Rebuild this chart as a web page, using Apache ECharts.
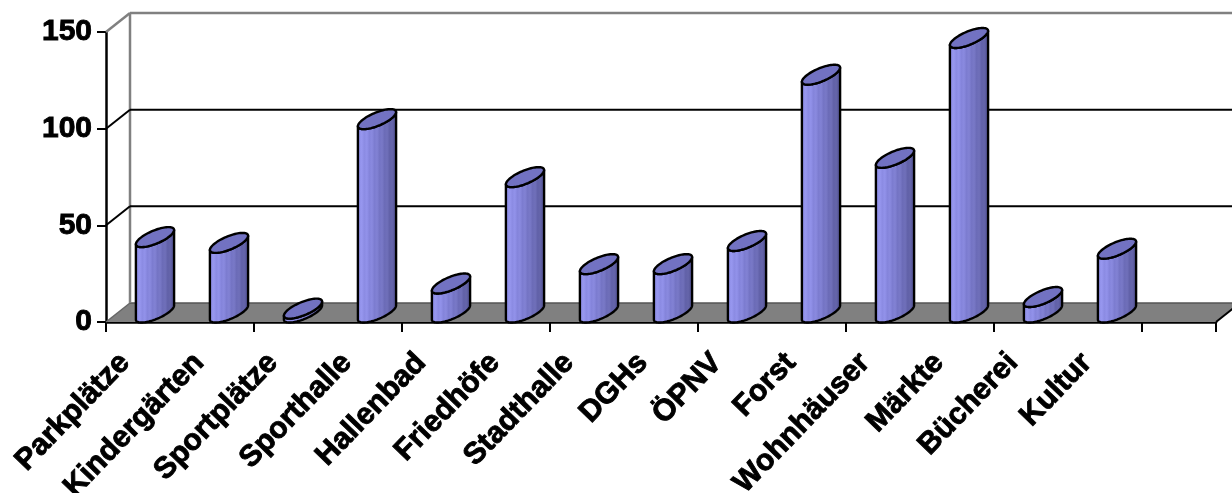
<!DOCTYPE html>
<html>
<head>
<meta charset="utf-8">
<script src="https://cdn.jsdelivr.net/npm/echarts@6/dist/echarts.min.js"></script>
<style>
  html, body { margin: 0; padding: 0; background: #ffffff; }
  #chart { width: 1232px; height: 493px; }
</style>
</head>
<body>
<div id="chart"></div>
<script>
// ---- data ----
const categories = ['Parkplätze', 'Kindergärten', 'Sportplätze', 'Sporthalle', 'Hallenbad', 'Friedhöfe', 'Stadthalle', 'DGHs', 'ÖPNV', 'Forst', 'Wohnhäuser', 'Märkte', 'Bücherei', 'Kultur'];
const values = [39, 36, 2, 100, 15, 70, 25, 25, 37, 123, 80, 142, 8, 33];
const yTicks = [0, 50, 100, 150];
const slots = categories.concat(['']); // 15th empty slot on the 3D floor

// ---- style constants ----
const DX = 24, DY = -19;            // depth vector of the 3D box
const EA = 13.5, EB = 13.5, EC = 10; // cylinder ellipse params
const FONT = '"Liberation Sans", Arial, sans-serif';

const chart = echarts.init(document.getElementById('chart'), null, { renderer: 'canvas' });

function ellipsePoint(cx, cy, t) {
  return [cx + EA * Math.cos(t) + EB * Math.sin(t), cy - EC * Math.sin(t)];
}

function frameRender(params, api) {
  const cs = params.coordSys;
  const x0 = cs.x, x1 = cs.x + cs.width;
  const y0 = api.coord([0, 0])[1];
  const yTop = api.coord([0, yTicks[yTicks.length - 1]])[1];
  const children = [];
  // floor
  children.push({ type: 'polygon', shape: { points: [[x0, y0], [x1, y0], [x1 + DX, y0 + DY], [x0 + DX, y0 + DY]] }, style: { fill: '#808080' } });
  children.push({ type: 'line', shape: { x1: x0 + DX, y1: y0 + DY, x2: x1 + DX, y2: y0 + DY }, style: { stroke: '#555555', lineWidth: 1.5 } });
  children.push({ type: 'line', shape: { x1: x0, y1: y0, x2: x0 + DX, y2: y0 + DY }, style: { stroke: '#666666', lineWidth: 1.5 } });
  children.push({ type: 'line', shape: { x1: x1, y1: y0, x2: x1 + DX, y2: y0 + DY }, style: { stroke: '#000000', lineWidth: 2 } });
  // back wall edges
  children.push({ type: 'line', shape: { x1: x0 + DX, y1: yTop + DY, x2: x0 + DX, y2: y0 + DY }, style: { stroke: '#808080', lineWidth: 2.5 } });
  children.push({ type: 'line', shape: { x1: x0 + DX, y1: yTop + DY, x2: x1 + DX + 10, y2: yTop + DY }, style: { stroke: '#808080', lineWidth: 2.5 } });
  children.push({ type: 'line', shape: { x1: x0, y1: yTop, x2: x0 + DX, y2: yTop + DY }, style: { stroke: '#808080', lineWidth: 2.5 } });
  // gridlines
  yTicks.forEach(function (v) {
    if (v === 0 || v === yTicks[yTicks.length - 1]) return;
    const y = api.coord([0, v])[1];
    children.push({ type: 'line', shape: { x1: x0 + DX, y1: y + DY, x2: x1 + DX + 10, y2: y + DY }, style: { stroke: '#000000', lineWidth: 2 } });
    children.push({ type: 'line', shape: { x1: x0, y1: y, x2: x0 + DX, y2: y + DY }, style: { stroke: '#000000', lineWidth: 2 } });
  });
  return { type: 'group', children: children };
}

function cylRender(params, api) {
  const i = api.value(0), v = api.value(1);
  const top = api.coord([i, v]);
  const bot = api.coord([i, 0]);
  const cx = top[0] + DX / 2;
  const cyT = top[1] + DY / 2;
  const cyB = bot[1] + DY / 2;
  const phi = Math.atan2(EB, EA);
  const N = 40;
  const bottomArc = [], topArc = [], topFull = [];
  for (let k = 0; k <= N; k++) {
    const t = Math.PI + phi + Math.PI * k / N;
    bottomArc.push(ellipsePoint(cx, cyB, t));
    topArc.push(ellipsePoint(cx, cyT, t));
  }
  for (let k = 0; k < 2 * N; k++) {
    topFull.push(ellipsePoint(cx, cyT, 2 * Math.PI * k / (2 * N)));
  }
  const body = bottomArc.concat(topArc.slice().reverse());
  const stops = [];
  const base = [
    [0.00, [150, 150, 238]], [0.25, [140, 140, 228]], [0.5, [124, 124, 206]],
    [0.75, [106, 106, 180]], [1.0, [84, 84, 148]]
  ];
  function colAt(p) {
    for (let j = 0; j < base.length - 1; j++) {
      if (p <= base[j + 1][0]) {
        const f = (p - base[j][0]) / (base[j + 1][0] - base[j][0]);
        return base[j][1].map(function (c, q) { return Math.round(c + f * (base[j + 1][1][q] - c)); });
      }
    }
    return base[base.length - 1][1];
  }
  const NS = 16;
  for (let s = 0; s <= NS; s++) {
    const p = s / NS;
    const c = colAt(p);
    const d = (s % 2 === 0) ? 6 : -4;
    stops.push({ offset: p, color: 'rgb(' + c.map(function (x) { return Math.max(0, Math.min(255, x + d)); }).join(',') + ')' });
  }
  return {
    type: 'group',
    children: [
      {
        type: 'polygon',
        shape: { points: body },
        style: {
          fill: new echarts.graphic.LinearGradient(0, 0, 1, 0, stops),
          stroke: '#000000', lineWidth: 2.4, lineJoin: 'round'
        }
      },
      {
        type: 'polygon',
        shape: { points: topFull },
        style: { fill: '#7272c2', stroke: '#000000', lineWidth: 2.4 }
      }
    ]
  };
}

const option = {
  animation: false,
  backgroundColor: '#ffffff',
  grid: [
    { left: 106, right: 16, top: 32, bottom: 171, outerBoundsMode: 'none', containLabel: false },
    { left: 88, right: 34, top: 32, bottom: 171, outerBoundsMode: 'none', containLabel: false }
  ],
  xAxis: [
    {
      type: 'category', gridIndex: 0, data: slots, boundaryGap: true,
      axisLine: { show: true, lineStyle: { color: '#000000', width: 2.5 } },
      axisTick: { show: true, length: 10, lineStyle: { color: '#000000', width: 2 } },
      axisLabel: { show: false },
      splitLine: { show: false }
    },
    {
      type: 'category', gridIndex: 1, data: slots, boundaryGap: true,
      axisLine: { show: false }, axisTick: { show: false }, splitLine: { show: false },
      axisLabel: {
        show: true, interval: 0, rotate: 46, margin: 36,
        color: '#000000', fontFamily: FONT, fontWeight: 'bold', fontSize: 30,
        textBorderColor: '#000000', textBorderWidth: 0.9
      }
    }
  ],
  yAxis: [
    {
      type: 'value', gridIndex: 0, min: 0, max: 150, interval: 50,
      axisLine: { show: true, lineStyle: { color: '#000000', width: 2.5 } },
      axisTick: { show: true, length: 9, lineStyle: { color: '#000000', width: 2 } },
      axisLabel: {
        show: true, margin: 14, color: '#000000', fontFamily: FONT, fontWeight: 'bold', fontSize: 30,
        textBorderColor: '#000000', textBorderWidth: 0.9,
        formatter: function (v) { return yTicks.indexOf(v) >= 0 ? String(v) : ''; }
      },
      splitLine: { show: false }
    },
    { type: 'value', gridIndex: 1, min: 0, max: 1, show: false }
  ],
  series: [
    {
      type: 'custom', name: 'frame', xAxisIndex: 0, yAxisIndex: 0, z: 1,
      renderItem: frameRender, data: [[0, 0]], silent: true, clip: false
    },
    {
      type: 'custom', name: 'values', xAxisIndex: 0, yAxisIndex: 0, z: 3,
      renderItem: cylRender,
      data: values.map(function (v, i) { return [i, v]; }),
      clip: false
    }
  ]
};
chart.setOption(option);
</script>
</body>
</html>
